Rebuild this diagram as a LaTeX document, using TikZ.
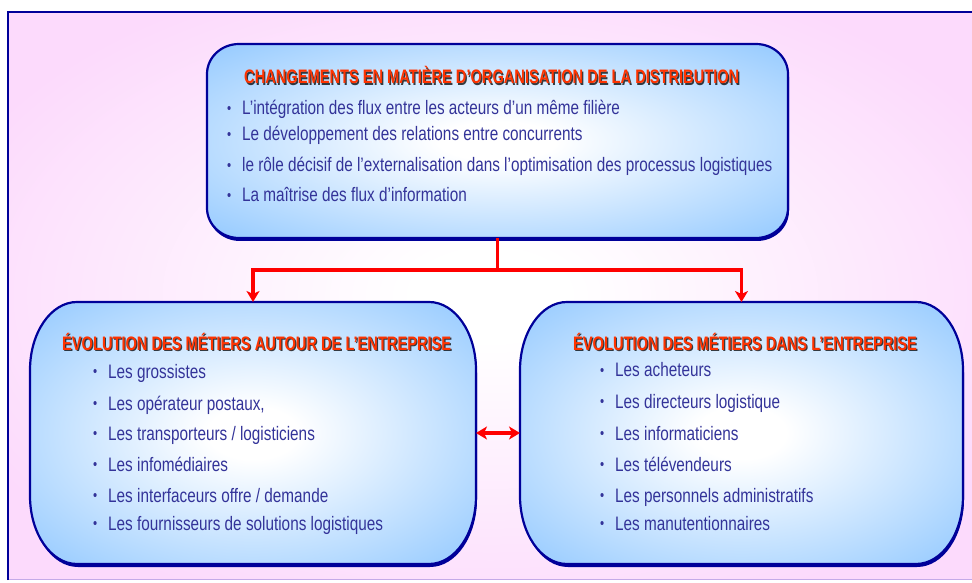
\documentclass[tikz,border=0pt]{standalone}
\usepackage{fontspec}
\setmainfont{Liberation Sans}
\newfontfamily\narrowfont[FakeStretch=0.785]{Liberation Sans}
\newfontfamily\headfont[FakeStretch=0.75]{Liberation Sans}
\usetikzlibrary{arrows.meta,calc}

\definecolor{bgpink}{RGB}{252,218,252}
\definecolor{boxblue}{RGB}{153,204,255}
\definecolor{navyline}{RGB}{0,0,153}
\definecolor{itemblue}{RGB}{51,51,153}
\definecolor{headred}{RGB}{255,51,0}
\definecolor{linkred}{RGB}{255,0,0}
\definecolor{lilac}{RGB}{196,170,232}

\pgfdeclareradialshading{bgglow}{\pgfpoint{0bp}{0bp}}{%
  color(0bp)=(white); color(4bp)=(white); color(30bp)=(bgpink); color(50bp)=(bgpink)}
\pgfdeclareradialshading{boxglow}{\pgfpoint{0bp}{0bp}}{%
  color(0bp)=(white); color(5bp)=(white); color(34bp)=(boxblue); color(50bp)=(boxblue)}

% Box outline with elliptical corners, drawn round a placeholder node.
% #1 path options, #2 node, #3 x radius, #4 y radius, #5/#6 offset
\newcommand\ovalshape[6]{%
  \path[#1] ([shift={(#5+#3,#6)}]#2.north west) -- ([shift={(#5-#3,#6)}]#2.north east)
    arc[start angle=90,end angle=0,x radius=#3,y radius=#4]
    -- ([shift={(#5,#6+#4)}]#2.south east)
    arc[start angle=0,end angle=-90,x radius=#3,y radius=#4]
    -- ([shift={(#5+#3,#6)}]#2.south west)
    arc[start angle=270,end angle=180,x radius=#3,y radius=#4]
    -- ([shift={(#5,#6-#4)}]#2.north west)
    arc[start angle=180,end angle=90,x radius=#3,y radius=#4]
    -- cycle;}

% Heading with a dark drop shadow
\newcommand\headline[3]{%
  \node[headshadow] (#1-shadow) at ($(#2)+(1.2,-1.4)$) {#3};
  \node[headtext] (#1) at (#2) {#3};}

\tikzset{
  x=1pt, y=1pt,
  placeholder/.style={rectangle, draw=none, inner sep=0pt, outer sep=0pt},
  headtext/.style={anchor=base west, inner sep=0pt, text=headred,
    font=\headfont\bfseries\fontsize{19.5}{22}\selectfont},
  headshadow/.style={headtext, text=black, opacity=0.75},
  itemtext/.style={anchor=base west, inner sep=0pt, text=itemblue,
    font=\narrowfont\fontsize{19.5}{22}\selectfont},
  redtip/.tip={Stealth[length=11pt,width=13pt,inset=3pt]},
  link/.style={draw=linkred, line width=3.5pt},
}

\newcommand\bul{\makebox[15pt][l]{\raisebox{1.5pt}{\fontsize{15}{15}\selectfont\textbullet}}}

\begin{document}
\begin{tikzpicture}
\useasboundingbox (0,0) rectangle (972,582);

% page frame
\path[shading=bgglow] (8,3) rectangle (972,570);
\draw[lilac, line width=1pt] (8,2.5) -- (972,2.5);
\draw[navyline, line width=2.6pt] (8,2) -- (8,570) -- (972,570);

% placeholders for the three boxes
\node[placeholder, minimum width=581pt, minimum height=194pt] (top) at (497.5,441) {};
\node[placeholder, minimum width=446pt, minimum height=262pt] (left) at (253,149) {};
\node[placeholder, minimum width=443pt, minimum height=262pt] (right) at (741.5,149) {};

% drop shadows
\ovalshape{fill=navyline}{top}{32}{30}{1}{-3}
\ovalshape{fill=navyline}{left}{47}{68}{1}{-3}
\ovalshape{fill=navyline}{right}{47}{68}{1}{-3}
% boxes
\ovalshape{shading=boxglow, draw=navyline, line width=2.2pt}{top}{32}{30}{0}{0}
\ovalshape{shading=boxglow, draw=navyline, line width=2.2pt}{left}{47}{68}{0}{0}
\ovalshape{shading=boxglow, draw=navyline, line width=2.2pt}{right}{47}{68}{0}{0}

% connectors
\draw[link] (top.south) -- ++(0,-32) coordinate (split);
\draw[link, -redtip] (split) -| (left.north);
\draw[link, -redtip] (split) -| (right.north);
\draw[link, redtip-redtip] (left.east) -- (right.west);

% top box
\headline{toptitle}{244,498}{CHANGEMENTS EN MATIÈRE D’ORGANISATION DE LA DISTRIBUTION}
\node[itemtext] (t1) at (227,467) {\bul L’intégration des flux entre les acteurs d’un même filière};
\node[itemtext] (t2) at (227,441) {\bul Le développement des relations entre concurrents};
\node[itemtext] (t3) at (227,410) {\bul le rôle décisif de l’externalisation dans l’optimisation des processus logistiques};
\node[itemtext] (t4) at (227,380) {\bul La maîtrise des flux d’information};

% left box
\headline{lefttitle}{62,232}{ÉVOLUTION DES MÉTIERS AUTOUR DE L’ENTREPRISE}
\node[itemtext] (l1) at (93,204) {\bul Les grossistes};
\node[itemtext] (l2) at (93,172) {\bul Les opérateur postaux,};
\node[itemtext] (l3) at (93,142) {\bul Les transporteurs / logisticiens};
\node[itemtext] (l4) at (93,111) {\bul Les infomédiaires};
\node[itemtext] (l5) at (93,80) {\bul Les interfaceurs offre / demande};
\node[itemtext] (l6) at (93,52) {\bul Les fournisseurs de solutions logistiques};

% right box
\headline{righttitle}{573,232}{ÉVOLUTION DES MÉTIERS DANS L’ENTREPRISE}
\node[itemtext] (r1) at (600,205) {\bul Les acheteurs};
\node[itemtext] (r2) at (600,174) {\bul Les directeurs logistique};
\node[itemtext] (r3) at (600,142) {\bul Les informaticiens};
\node[itemtext] (r4) at (600,111) {\bul Les télévendeurs};
\node[itemtext] (r5) at (600,80) {\bul Les personnels administratifs};
\node[itemtext] (r6) at (600,52) {\bul Les manutentionnaires};
\end{tikzpicture}
\end{document}
